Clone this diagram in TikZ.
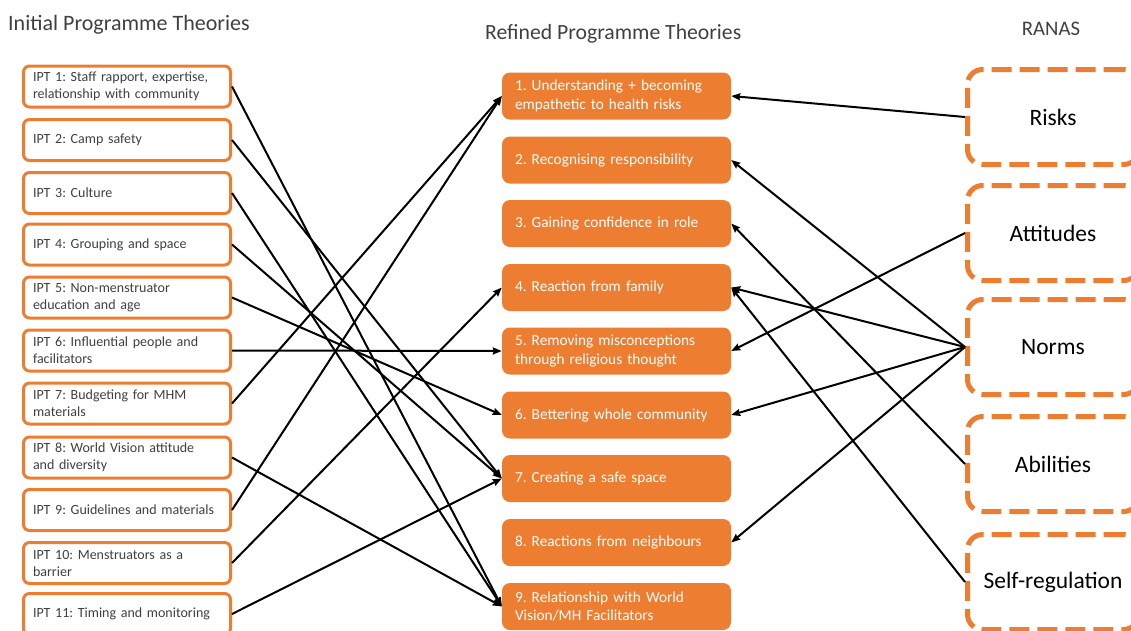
\documentclass[tikz,border=0pt]{standalone}
\usepackage{fontspec}
\setmainfont{Carlito}
\usetikzlibrary{arrows.meta}
\definecolor{orng}{HTML}{ED7D31}
\definecolor{txtgray}{HTML}{404040}
\frenchspacing
\hyphenpenalty=10000
\exhyphenpenalty=10000
\begin{document}
\begin{tikzpicture}[x=1pt,y=-1pt,
  ipt/.style={draw=orng, line width=3pt, rounded corners=6pt, fill=white,
    minimum width=207pt, minimum height=41pt, text width=188pt, inner xsep=9.5pt,
    inner ysep=2pt, align=left, font=\fontsize{14}{17}\selectfont\frenchspacing, text=txtgray},
  rpt/.style={fill=orng, rounded corners=8pt, minimum width=229pt, minimum height=47pt,
    text width=203pt, inner xsep=13pt, inner ysep=2pt, align=left, text=white,
    font=\fontsize{15.3}{18.5}\selectfont\frenchspacing},
  ranas/.style={draw=orng, line width=5pt, dash pattern=on 20pt off 8pt,
    rounded corners=15pt, minimum width=171pt, minimum height=95pt,
    font=\fontsize{23.5}{28}\selectfont, text=black},
  ttl/.style={text=txtgray, inner sep=0pt},
  conn/.style={line width=2pt, -{Stealth[length=9pt,width=7pt,inset=1pt]}}
]
\useasboundingbox (0,0) rectangle (1131,630);
\clip (0,0) rectangle (1131,630);
\fill[white] (0,0) rectangle (1131,630);

% titles
\node[ttl, anchor=base west, font=\fontsize{22}{26}\selectfont] (t1) at (8,30) {Initial Programme Theories};
\node[ttl, anchor=base west, font=\fontsize{21.7}{26}\selectfont] (t2) at (485,39) {Refined Programme Theories};
\node[ttl, anchor=base, font=\fontsize{20.7}{25}\selectfont] (t3) at (1051,35) {RANAS};

% initial programme theories
\node[ipt] (i1) at (127,86.5) {IPT 1: Staff rapport, expertise,\\relationship with community};
\node[ipt] (i2) at (127,140) {IPT 2: Camp safety};
\node[ipt] (i3) at (127,193) {IPT 3: Culture};
\node[ipt] (i4) at (127,244.5) {IPT 4: Grouping and space};
\node[ipt] (i5) at (127,297.5) {IPT 5: Non-menstruator\\education and age};
\node[ipt] (i6) at (127,350.5) {IPT 6: Influential people and\\facilitators};
\node[ipt] (i7) at (127,403.5) {IPT 7: Budgeting for MHM\\materials};
\node[ipt] (i8) at (127,457.5) {IPT 8: World Vision attitude\\and diversity};
\node[ipt] (i9) at (127,510) {IPT 9: Guidelines and materials};
\node[ipt] (i10) at (127,563) {IPT 10: Menstruators as a\\barrier};
\node[ipt] (i11) at (127,614) {IPT 11: Timing and monitoring};

% refined programme theories
\node[rpt] (r1) at (616.5,96) {1. Understanding + becoming\\empathetic to health risks};
\node[rpt] (r2) at (616.5,160) {2. Recognising responsibility};
\node[rpt] (r3) at (616.5,223.5) {3. Gaining confidence in role};
\node[rpt] (r4) at (616.5,287.5) {4. Reaction from family};
\node[rpt] (r5) at (616.5,351) {5. Removing misconceptions\\through religious thought};
\node[rpt] (r6) at (616.5,415) {6. Bettering whole community};
\node[rpt] (r7) at (616.5,478.5) {7. Creating a safe space};
\node[rpt] (r8) at (616.5,542.5) {8. Reactions from neighbours};
\node[rpt] (r9) at (616.5,606.5) {9. Relationship with World\\Vision/MH Facilitators};

% RANAS
\node[ranas] (a1) at (1053,117) {Risks};
\node[ranas] (a2) at (1053,233) {Attitudes};
\node[ranas] (a3) at (1053,347) {Norms};
\node[ranas] (a4) at (1053,464) {Abilities};
\node[ranas] (a5) at (1053,582) {Self-regulation};

% left connectors
\draw[conn] (i1.east) -- (r9.west);
\draw[conn] (i2.east) -- (r7.west);
\draw[conn] (i3.east) -- (r9.west);
\draw[conn] (i4.east) -- (r7.west);
\draw[conn] (i5.east) -- (r6.west);
\draw[conn] (i6.east) -- (r5.west);
\draw[conn] (i7.east) -- (r1.west);
\draw[conn] (i8.east) -- (r9.west);
\draw[conn] (i9.east) -- (r1.west);
\draw[conn] (i10.east) -- (r4.west);
\draw[conn] (i11.east) -- (r7.west);

% right connectors
\draw[conn] (a1.west) -- (r1.east);
\draw[conn] (a2.west) -- (r5.east);
\draw[conn] (a3.west) -- (r2.east);
\draw[conn] (a3.west) -- (r4.east);
\draw[conn] (a3.west) -- (r6.east);
\draw[conn] (a3.west) -- (r8.east);
\draw[conn] (a4.west) -- (r3.east);
\draw[conn] (a5.west) -- (r4.east);
\end{tikzpicture}
\end{document}
